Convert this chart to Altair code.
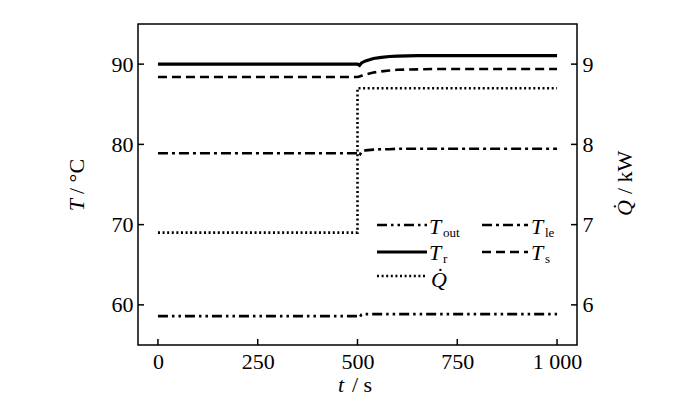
import altair as alt
import pandas as pd

FONT = "Liberation Serif"

# ---------------- data ----------------
time_s = [0, 100, 200, 300, 400, 500, 505, 510, 520, 540, 560, 580, 600, 650, 700, 800, 900, 1000]
T_r = [90.0, 90.0, 90.0, 90.0, 90.0, 90.0, 89.85, 90.15, 90.4, 90.7, 90.85, 90.95, 91.0, 91.05, 91.05, 91.05, 91.05, 91.05]
T_s = [88.4, 88.4, 88.4, 88.4, 88.4, 88.4, 88.45, 88.55, 88.7, 88.95, 89.1, 89.2, 89.3, 89.35, 89.4, 89.4, 89.4, 89.4]
T_le = [78.9, 78.9, 78.9, 78.9, 78.9, 78.9, 78.6, 79.1, 79.25, 79.35, 79.4, 79.4, 79.45, 79.45, 79.45, 79.45, 79.45, 79.45]
T_out = [58.6, 58.6, 58.6, 58.6, 58.6, 58.6, 58.45, 58.8, 58.85, 58.85, 58.85, 58.85, 58.85, 58.85, 58.85, 58.85, 58.85, 58.85]

q_time = [0, 500, 500, 1000]
Q_kW = [6.9, 6.9, 8.7, 8.7]

x_ticks = [0, 250, 500, 750, 1000]
T_ticks = [60, 70, 80, 90]
Q_ticks = [6, 7, 8, 9]

W, H = 439, 321

x_scale = alt.Scale(domain=[-50, 1050], nice=False, zero=False)
T_scale = alt.Scale(domain=[55, 95], nice=False, zero=False)
Q_scale = alt.Scale(domain=[5.5, 9.5], nice=False, zero=False)

axis_common = dict(labelFont=FONT, labelFontSize=22, labelColor="black",
                   ticks=False, domain=False, grid=False, title=None)

x_enc = alt.X("t:Q", scale=x_scale,
              axis=alt.Axis(values=x_ticks, labelPadding=6,
                            labelExpr="datum.value == 1000 ? '1 000' : format(datum.value, 'd')",
                            **axis_common))


def t_line(values, dash, width=2.6):
    df = pd.DataFrame({"t": time_s, "v": values, "i": range(len(time_s))})
    props = dict(color="black", strokeWidth=width, clip=True)
    if dash:
        props["strokeDash"] = dash
    return alt.Chart(df).mark_line(**props).encode(
        x=x_enc,
        y=alt.Y("v:Q", scale=T_scale,
                axis=alt.Axis(values=T_ticks, orient="left", labelPadding=5, format="d", **axis_common)),
        order="i:Q",
    )


one = pd.DataFrame({"k": [0]})

# inward ticks
left_ticks = alt.Chart(pd.DataFrame({"v": T_ticks})).mark_rule(color="black", strokeWidth=1.5).encode(
    y=alt.Y("v:Q", scale=T_scale), x=alt.value(0), x2=alt.value(6))
bottom_ticks = alt.Chart(pd.DataFrame({"t": x_ticks})).mark_rule(color="black", strokeWidth=1.5).encode(
    x=alt.X("t:Q", scale=x_scale), y=alt.value(H), y2=alt.value(H - 6))
right_ticks = alt.Chart(pd.DataFrame({"v": Q_ticks})).mark_rule(color="black", strokeWidth=1.5).encode(
    y=alt.Y("v:Q", scale=Q_scale), x=alt.value(W - 6), x2=alt.value(W))


def txt(s, x, y, size=22, italic=False, align="left", baseline="alphabetic", angle=0):
    props = dict(text=s, font=FONT, fontSize=size, color="black", align=align, baseline=baseline)
    if italic:
        props["fontStyle"] = "italic"
    if angle:
        props["angle"] = angle
    return alt.Chart(one).mark_text(**props).encode(x=alt.value(x), y=alt.value(y))


def leg_rule(x1, x2, y, dash, width=2.6):
    props = dict(color="black", strokeWidth=width)
    if dash:
        props["strokeDash"] = dash
    return alt.Chart(one).mark_rule(**props).encode(x=alt.value(x1), x2=alt.value(x2), y=alt.value(y))


DASH_OUT = [10, 4, 2.5, 4, 2.5, 4]
DASH_LE = [10, 4, 3, 4]
DASH_S = [9, 5]
DASH_Q = [2, 2.6]

left_layer = alt.layer(
    t_line(T_out, DASH_OUT),
    t_line(T_le, DASH_LE),
    t_line(T_s, DASH_S),
    t_line(T_r, None, 3.2),
    left_ticks,
    bottom_ticks,
    # legend
    leg_rule(239, 289, 201, DASH_OUT),
    txt("T", 291, 210, italic=True),
    txt("out", 305, 213, size=13),
    leg_rule(344, 390, 201, DASH_LE),
    txt("T", 393, 210, italic=True),
    txt("le", 407, 213, size=13),
    leg_rule(239, 289, 228, None, 3.2),
    txt("T", 291, 236, italic=True),
    txt("r", 305, 239, size=13),
    leg_rule(344, 390, 228, DASH_S),
    txt("T", 393, 236, italic=True),
    txt("s", 407, 239, size=13),
    leg_rule(239, 289, 252, DASH_Q),
    txt("Q\u0307", 293, 263, italic=True),
    # axis titles
    txt("T", -61, 175, italic=True, align="right", baseline="middle", angle=270),
    txt("/ °C", -61, 170, align="left", baseline="middle", angle=270),
    txt("t", 206, 368, italic=True, align="right"),
    txt("/ s", 214, 368, align="left"),
    txt("Q\u0307", 487, 176, italic=True, align="right", baseline="middle", angle=270),
    txt("/ kW", 487, 170, align="left", baseline="middle", angle=270),
)

q_df = pd.DataFrame({"t": q_time, "q": Q_kW, "i": range(len(q_time))})
q_line = alt.Chart(q_df).mark_line(color="black", strokeWidth=2.6, strokeDash=DASH_Q, clip=True).encode(
    x=x_enc,
    y=alt.Y("q:Q", scale=Q_scale,
            axis=alt.Axis(values=Q_ticks, orient="right", labelPadding=5, format="d", **axis_common)),
    order="i:Q",
)
right_layer = alt.layer(q_line, right_ticks)

chart = alt.layer(left_layer, right_layer).resolve_scale(y="independent").properties(
    width=W, height=H,
    autosize=alt.AutoSizeParams(type="none"),
    padding={"left": 130, "top": 16, "right": 110, "bottom": 58},
    background="white",
).configure_view(stroke="black", strokeWidth=1.5)

chart.save("out.html", embed_options={"renderer": "svg", "actions": False})
